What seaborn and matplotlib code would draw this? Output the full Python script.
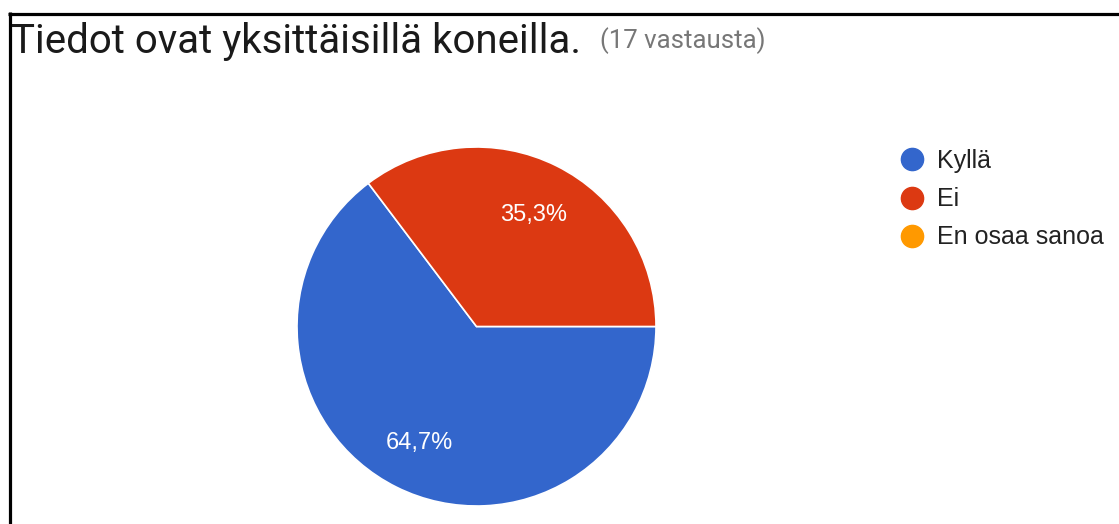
import matplotlib
matplotlib.use("Agg")
import matplotlib.pyplot as plt
from matplotlib.lines import Line2D
import numpy as np
import seaborn as sns

categories = ["Kyllä", "Ei", "En osaa sanoa"]
counts = [11, 6, 0]
pct_labels = ["64,7%", "35,3%", ""]
colors = ["#3366CC", "#DC3912", "#FF9900"]
title = "Tiedot ovat yksittäisillä koneilla."
subtitle = "(17 vastausta)"

sns.set_theme(style="white")
plt.rcParams['font.family'] = ['Roboto', 'DejaVu Sans']
ARIAL = ['Liberation Sans', 'DejaVu Sans']

W, H = 1119, 524
fig = plt.figure(figsize=(W / 100, H / 100), dpi=100)
fig.patch.set_facecolor("white")

def fx(px):
    return px / W

def fy(py):
    return 1 - py / H

# pie axes
cx, cy, R = 476.5, 326.5, 179.5
ax = fig.add_axes([fx(cx - R), fy(cy + R), 2 * R / W, 2 * R / H])
vals = [c for c in counts if c > 0]
cols = [colors[i] for i, c in enumerate(counts) if c > 0]
labs = [pct_labels[i] for i, c in enumerate(counts) if c > 0]
total = sum(vals)
ang0 = 360 * counts[1] / total
wedges, _ = ax.pie(vals, colors=cols, startangle=ang0,
                   counterclock=True, radius=1,
                   wedgeprops=dict(edgecolor="white", linewidth=1.2))
cum = ang0
half_digit = 8.5 / R
for v, lab in zip(vals, labs):
    span = 360 * v / total
    mid = np.deg2rad(cum + span / 2)
    ax.text(0.712 * np.cos(mid), 0.712 * np.sin(mid) - half_digit, lab,
            color="white", ha="center", va="baseline", fontsize=17,
            family=ARIAL)
    cum += span
ax.set_xlim(-1, 1)
ax.set_ylim(-1, 1)
ax.set_aspect("equal")
ax.axis("off")

# title
fig.text(fx(11), fy(53), title, fontsize=29.0, color="#1a1a1a",
         ha="left", va="baseline")
fig.text(fx(600), fy(48), subtitle, fontsize=18.5, color="#777777",
         ha="left", va="baseline")

# legend
handles = [Line2D([], [], marker="o", linestyle="none", markersize=16,
                  markerfacecolor=c, markeredgecolor=c) for c in colors]
leg = fig.legend(handles, categories, loc="upper left",
                 bbox_to_anchor=(fx(899.5), fy(149)), frameon=False,
                 prop=dict(family=ARIAL, size=18), handletextpad=0.5,
                 labelspacing=0.57, handlelength=1.0, borderpad=0,
                 borderaxespad=0)
for txt in leg.get_texts():
    txt.set_color("#222222")

# frame lines (top and left)
fig.add_artist(Line2D([fx(8), 1], [fy(13.5), fy(13.5)], color="black",
                      linewidth=2.3, solid_capstyle="butt",
                      transform=fig.transFigure))
fig.add_artist(Line2D([fx(9.5), fx(9.5)], [fy(12.4), 0], color="black",
                      linewidth=2.3, solid_capstyle="butt",
                      transform=fig.transFigure))

fig.savefig("out.png", dpi=100, facecolor="white")
